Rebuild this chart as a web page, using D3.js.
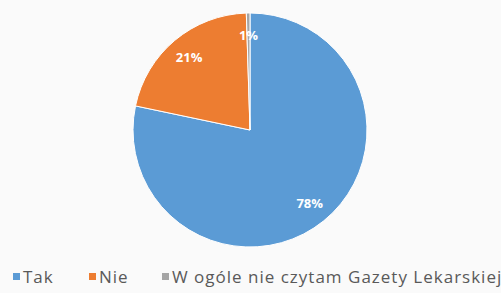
<!DOCTYPE html>
<html>
<head>
<meta charset="utf-8">
<script src="https://cdn.jsdelivr.net/npm/d3@7"></script>
<style>
    body { margin: 0; background: #fafafa; }
    svg { display: block; }
</style>
</head>
<body>
<svg id="chart"></svg>
<script>
// chart data (shares in %)
var categories = ["Tak", "Nie", "W ogóle nie czytam Gazety Lekarskiej"];
var values = [78.3, 21.2, 0.5];
var colors = ["#5b9bd5", "#ed7d31", "#a5a5a5"];

var width = 501, height = 293;
var svg = d3.select("#chart").attr("width", width).attr("height", height);

var cx = 250, cy = 130, radius = 117;

var data = categories.map(function (c, i) {
    return {name: c, value: values[i], color: colors[i]};
});

var pie = d3.pie().sort(null).value(function (d) { return d.value; });
var arc = d3.arc().innerRadius(0).outerRadius(radius);
var labelArc = d3.arc().innerRadius(radius * 0.81).outerRadius(radius * 0.81);

var pieG = svg.append("g").attr("transform", "translate(" + cx + "," + cy + ")");

pieG.selectAll("path")
    .data(pie(data))
    .enter()
    .append("path")
    .attr("d", arc)
    .style("fill", function (d) { return d.data.color; })
    .style("stroke", "#ffffff")
    .style("stroke-width", 1);

pieG.selectAll("text")
    .data(pie(data))
    .enter()
    .append("text")
    .attr("transform", function (d) { return "translate(" + labelArc.centroid(d) + ")"; })
    .attr("text-anchor", "middle")
    .attr("dy", "0.35em")
    .style("font-family", "'Open Sans', sans-serif")
    .style("font-size", "13px")
    .style("font-weight", "bold")
    .style("fill", "#ffffff")
    .text(function (d) { return Math.round(d.data.value) + "%"; });

// legend
var legendX = [13, 89, 162];
var legend = svg.append("g").attr("class", "legend");
var item = legend.selectAll("g")
    .data(data)
    .enter()
    .append("g")
    .attr("transform", function (d, i) { return "translate(" + legendX[i] + "," + 277 + ")"; });

item.append("rect")
    .attr("x", 0)
    .attr("y", -4)
    .attr("width", 7)
    .attr("height", 7)
    .style("fill", function (d) { return d.color; });

item.append("text")
    .attr("x", 10)
    .attr("dy", "0.35em")
    .style("font-family", "'Open Sans', sans-serif")
    .style("font-size", "17px")
    .style("letter-spacing", "1px")
    .style("fill", "#595959")
    .text(function (d) { return d.name; });
</script>
</body>
</html>
